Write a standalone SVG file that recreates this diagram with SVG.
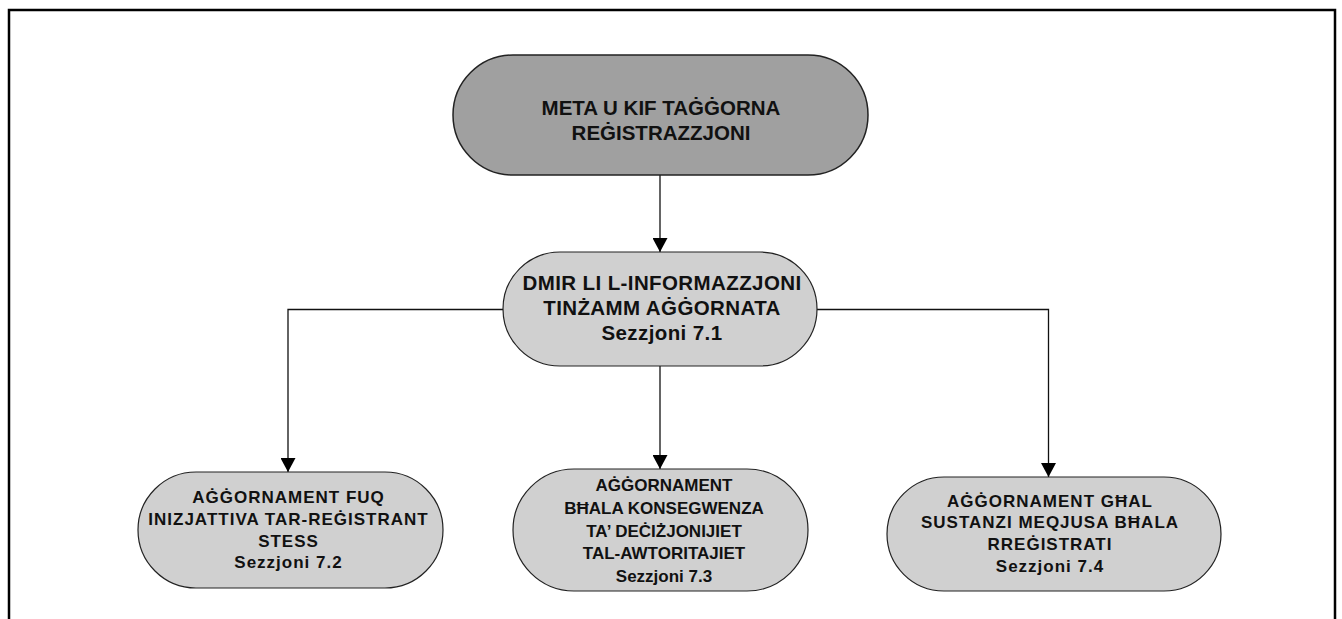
<svg xmlns="http://www.w3.org/2000/svg" width="1342" height="619" viewBox="0 0 1342 619">
<defs>
<marker id="arr" viewBox="0 0 14 15" refX="14" refY="7.5" markerWidth="14" markerHeight="15" markerUnits="userSpaceOnUse" orient="auto">
<path d="M0,0 L14,7.5 L0,15 Z" fill="#000"/>
</marker>
<style>
.n{fill:#d0d0d0;stroke:#222;stroke-width:1.2}
.top{fill:#a0a0a0;stroke:#222;stroke-width:1.5}
.t{font-family:"Liberation Sans",Arial,sans-serif;font-weight:bold;fill:#111;text-anchor:middle}
.w{letter-spacing:1px}
.c{fill:none;stroke:#111;stroke-width:1.3}
</style>
</defs>
<rect width="1342" height="619" fill="#fff"/>
<path d="M9,619 V10 H1335 V619" fill="none" stroke="#000" stroke-width="2.5"/>
<g id="connectors">
<line class="c" x1="660" y1="175" x2="660" y2="252" marker-end="url(#arr)"/>
<polyline class="c" points="503,309.5 288,309.5 288,472" marker-end="url(#arr)"/>
<line class="c" x1="660" y1="366" x2="660" y2="469" marker-end="url(#arr)"/>
<polyline class="c" points="817,309.5 1048.5,309.5 1048.5,477" marker-end="url(#arr)"/>
</g>
<g id="n0">
<rect class="top" x="453" y="55" width="415" height="120" rx="60"/>
<text class="t" font-size="20.5"><tspan x="661" y="115">META U KIF TAĠĠORNA</tspan><tspan x="661" y="140">REĠISTRAZZJONI</tspan></text>
</g>
<g id="n1">
<rect class="n" x="503" y="252" width="314" height="114" rx="57"/>
<text class="t" font-size="20.5" letter-spacing="0.4"><tspan x="662" y="290">DMIR LI L-INFORMAZZJONI</tspan><tspan x="662" y="315">TINŻAMM AĠĠORNATA</tspan><tspan x="662" y="340">Sezzjoni 7.1</tspan></text>
</g>
<g id="n2">
<rect class="n" x="138" y="472" width="305" height="116" rx="58"/>
<text class="t w" font-size="17"><tspan x="288.5" y="503">AĠĠORNAMENT FUQ</tspan><tspan x="288.5" y="525">INIZJATTIVA TAR-REĠISTRANT</tspan><tspan x="288.5" y="547">STESS</tspan><tspan x="288.5" y="568">Sezzjoni 7.2</tspan></text>
</g>
<g id="n3">
<rect class="n" x="513" y="469" width="295" height="122" rx="61"/>
<text class="t" font-size="17"><tspan x="664" y="491">AĠĠORNAMENT</tspan><tspan x="664" y="514">BĦALA KONSEGWENZA</tspan><tspan x="664" y="536.5">TA’ DEĊIŻJONIJIET</tspan><tspan x="664" y="559">TAL-AWTORITAJIET</tspan><tspan x="664" y="581.5">Sezzjoni 7.3</tspan></text>
</g>
<g id="n4">
<rect class="n" x="887" y="477" width="334" height="114" rx="57"/>
<text class="t w" font-size="17"><tspan x="1050" y="506.5">AĠĠORNAMENT GĦAL</tspan><tspan x="1050" y="528">SUSTANZI MEQJUSA BĦALA</tspan><tspan x="1050" y="550">RREĠISTRATI</tspan><tspan x="1050" y="571.5">Sezzjoni 7.4</tspan></text>
</g>
</svg>
